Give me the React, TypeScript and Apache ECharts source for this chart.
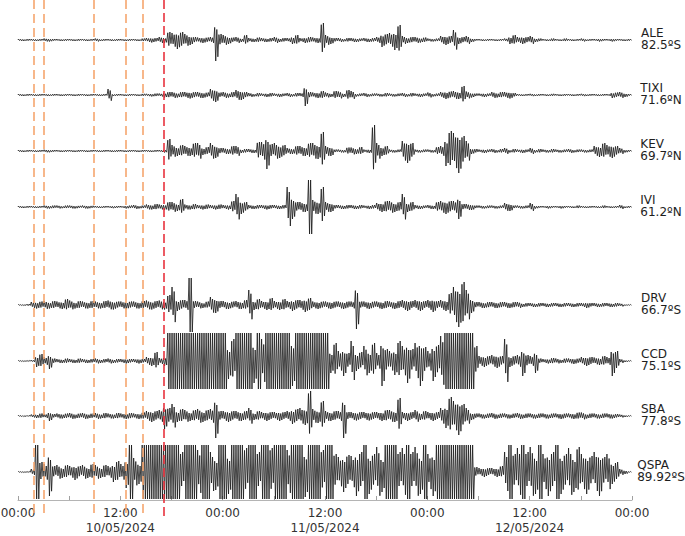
import React, { useEffect, useRef } from 'react';
import * as echarts from 'echarts';

// ---------- data ----------
const STATIONS = ['ALE', 'TIXI', 'KEV', 'IVI', 'DRV', 'CCD', 'SBA', 'QSPA'];
const LATITUDES = ['82.5ºS', '71.6ºN', '69.7ºN', '61.2ºN', '66.7ºS', '75.1ºS', '77.8ºS', '89.92ºS'];
const DATES = ['10/05/2024', '11/05/2024', '12/05/2024'];
const HOURS_TOTAL = 72;
const BIN_HOURS = 0.5; // each envelope value covers 30 minutes
const ORANGE_EVENTS_H = [1.8, 3.0, 8.85, 12.6, 14.65];
const RED_EVENT_H = 17.1;

// half-amplitude envelope per 30-min bin (10/05 00:00 -> 13/05 00:00)
const ALE = [
  1, 1, 1, 1, 1, 1, 1.5, 1.5, 1, 1,
  1, 1, 1, 1, 1, 1, 1, 1, 1.5, 1,
  1, 1, 1, 1, 1, 1, 1, 1, 1, 1.5,
  2, 2.5, 2, 3, 3, 8, 7, 9, 8, 6,
  5, 3, 2.5, 3, 2.5, 3, 21, 6, 5, 4,
  2.5, 3, 2, 5, 2, 2, 2.5, 2, 2, 2,
  3, 2, 2, 2, 4, 5, 2, 3, 3, 2.5,
  3, 17, 5, 4, 2, 2, 1.5, 2, 2, 2,
  1.5, 2, 2, 2, 3, 7, 6, 7, 10, 15,
  4, 3, 3, 3, 2.5, 2.5, 1.5, 1.5, 1.5, 4,
  5, 4, 10, 4, 3, 4, 2, 1, 1, 1,
  1, 1, 1, 1, 1.5, 4, 5, 3, 4, 3,
  4, 2, 1.5, 1, 1, 1.5, 1, 1, 1.5, 1,
  1, 1, 1.5, 1, 1, 1, 1.5, 1, 1, 1.5,
  1, 1, 1, 1,
];
const TIXI = [
  1, 1, 1, 1, 1, 1, 1, 1, 1, 1,
  1, 1, 1, 1, 1, 1, 1, 1, 1, 1,
  1, 6, 1, 1, 1, 1, 1, 1, 1, 1.2,
  1.2, 1.5, 1.5, 1.5, 2.5, 3, 3, 2.5, 3, 3,
  3.5, 3, 3, 3, 2.5, 6, 7, 2.5, 3, 2.5,
  3, 5, 5, 3, 2, 1.5, 2, 1.5, 2, 2,
  1.5, 2, 1.5, 2, 1.5, 2, 2, 11, 3, 2.5,
  3, 4, 2.5, 2, 4, 3.5, 2, 5, 4, 1.5,
  1.5, 2, 1.5, 1.5, 1.5, 1.5, 2, 1.5, 1.5, 1.5,
  2, 1.5, 2, 1.5, 2, 1.5, 2.5, 1.5, 1.5, 3,
  4, 3.5, 4, 4, 9, 3.5, 2.5, 1.5, 1.5, 2,
  1.5, 3, 2.5, 3, 3, 3.5, 2, 1, 1, 1,
  1.2, 1, 1, 1, 1, 1.2, 1, 1, 1, 1,
  1, 1, 1.2, 1, 1, 1, 1, 1, 1, 3,
  2.5, 3, 2, 1,
];
const KEV = [
  1, 1, 1, 1, 1, 1, 1.3, 1.3, 1, 1,
  1, 1, 1, 1, 1, 1, 1, 1, 1, 1,
  1, 1, 1, 1, 1, 1, 1, 1, 1, 1,
  1, 1, 1, 1, 1.5, 12, 6, 5, 6, 5,
  5, 8, 8, 4, 4, 8, 7, 3, 3, 3,
  5, 5, 2, 2, 2, 2, 9, 9, 18, 7,
  8, 7, 6, 3, 3, 5, 5, 5, 8, 8,
  8, 19, 5, 5, 1.5, 1.5, 1.5, 3.5, 3.5, 3,
  4, 1.5, 2, 26, 8, 5, 5, 1.5, 1.5, 1.5,
  10, 12, 8, 1.5, 1.5, 1.5, 1.5, 1.5, 4, 5,
  15, 20, 18, 22, 15, 10, 3, 2, 1.5, 2,
  1.5, 2, 1.5, 2, 3, 1.5, 2, 1.5, 2, 1.5,
  3, 1.5, 2, 1.5, 1.5, 2, 1.5, 1.5, 1.5, 2,
  1.5, 1.5, 1.5, 1.5, 1.5, 5, 6, 8, 6, 7,
  5, 3, 1.5, 1,
];
const IVI = [
  1, 1, 1, 1, 1, 1, 1.5, 1.5, 1.5, 1.5,
  1.2, 1.5, 1.5, 1.5, 1.2, 1.5, 1.5, 1.2, 1, 1,
  1, 1, 1.2, 1, 1, 1.5, 1.5, 2, 1.5, 1.5,
  2.5, 2.5, 3, 2.5, 3, 5, 5, 4, 8, 2.5,
  2.5, 3, 2, 2.5, 2.5, 2, 2.5, 2.5, 2, 2.5,
  6, 13, 7, 5, 2, 2, 2, 2, 2.5, 2,
  2, 2, 2, 20, 12, 5, 5, 5, 27, 7,
  7, 20, 5, 5, 2, 2, 2, 2, 2, 2,
  2, 1.5, 2, 2, 4, 5, 6, 6, 5, 5,
  13, 5, 5, 2, 2, 1.5, 2, 2, 5, 6,
  7, 6, 6, 12, 3, 3, 3, 1.5, 1.5, 1.5,
  1.5, 1.5, 1.5, 1.5, 4, 4, 1.5, 1.5, 1.5, 1.5,
  4, 1.5, 1, 1, 1.5, 1, 1, 1.5, 1, 1,
  1, 1.5, 1, 1, 1, 1, 1, 1.5, 1, 1,
  1, 2, 1, 1,
];
const DRV = [
  0.5, 0.5, 1, 3, 3.5, 3.5, 4, 3.5, 4, 3.5,
  4, 6, 4.5, 3.5, 4, 3.5, 3.5, 4, 3.5, 3.5,
  4, 4.5, 4.5, 3.5, 3.5, 4, 3.5, 3.5, 3.5, 4,
  4.5, 4.5, 4, 4.5, 4.5, 10, 18, 6, 5, 5,
  27, 4, 3.5, 3, 3.5, 8, 8, 4, 4, 4,
  3.5, 4, 4, 5, 15, 5, 6, 4, 5, 7,
  4, 5, 6, 4, 6, 5, 5, 7, 7, 3.5,
  4, 3.5, 3.5, 4, 3.5, 3.5, 4, 3.5, 3.5, 24,
  3.5, 3.5, 4, 3.5, 3.5, 4, 4, 3.5, 4, 4,
  5, 6, 4, 5, 6, 4, 5, 7, 4, 5,
  6, 12, 18, 22, 23, 15, 8, 3, 3, 3,
  3, 3, 3, 3, 3, 3, 3, 3, 2, 2,
  2, 2, 2, 2, 2, 2, 2, 2, 2, 2,
  2, 2, 2, 3, 2, 2, 2, 2, 2, 2,
  2, 1.5, 0.5, 0.5,
];
const CCD = [
  0.5, 0.5, 0.5, 1, 6, 7, 4, 8, 2.5, 2,
  2, 2.5, 2, 2, 2.5, 2, 2, 2, 2.5, 2,
  2, 2.5, 2, 2, 2, 2.5, 2, 2, 2.5, 2,
  4, 5, 9, 3, 5, 28, 28, 28, 28, 28,
  28, 28, 28, 28, 28, 28, 28, 28, 28, 18,
  22, 28, 28, 28, 28, 22, 28, 22, 28, 28,
  28, 28, 28, 28, 25, 28, 28, 28, 28, 28,
  28, 28, 28, 12, 18, 10, 15, 8, 20, 10,
  9, 15, 12, 18, 8, 25, 12, 10, 14, 20,
  15, 22, 12, 18, 25, 14, 10, 20, 16, 25,
  28, 28, 28, 28, 28, 28, 28, 15, 5, 6,
  5, 6, 7, 5, 22, 6, 5, 6, 15, 6,
  5, 12, 2.5, 2, 2.5, 3, 2.5, 2, 2.5, 2.5,
  3, 2.5, 4, 5, 4, 3.5, 4, 5, 4, 15,
  10, 2, 1, 0.5,
];
const SBA = [
  0.7, 0.7, 0.7, 1.5, 2, 2.5, 2, 5, 2, 2.5,
  2.5, 2.5, 3, 2.5, 2.5, 3, 2.5, 2.5, 3, 2.5,
  3, 2.5, 2.5, 3, 2.5, 3, 3, 2.5, 3, 3.5,
  5, 6, 5, 6, 13, 8, 12, 6, 7, 6,
  5, 6, 7, 6, 6, 7, 22, 5, 5, 6,
  5, 5, 5, 5, 8, 4, 5, 4, 5, 4,
  4, 5, 4, 5, 8, 7, 8, 9, 25, 7,
  7, 15, 5, 5, 5, 5, 22, 4, 4, 4.5,
  4, 4, 4.5, 4, 4, 5, 6, 6, 6, 18,
  4, 5, 4, 6, 4, 5, 4, 5, 4, 8,
  12, 19, 15, 19, 12, 8, 4, 2.5, 2.5, 2.5,
  2.5, 3, 2.5, 2.5, 2.5, 2.5, 2.5, 3, 2.5, 2.5,
  2.5, 2.5, 2.5, 2.5, 2.5, 2.5, 2.5, 3, 2.5, 2.5,
  3, 3.5, 3.5, 2.5, 2.5, 2.5, 2.5, 2.5, 2.5, 2.5,
  2, 1.5, 1, 0.5,
];
const QSPA = [
  0.5, 0.5, 0.5, 3, 27, 10, 8, 24, 6, 7,
  6, 7, 6, 8, 6, 7, 6, 8, 7, 6,
  7, 6, 10, 11, 8, 16, 27, 14, 12, 27,
  27, 27, 27, 27, 27, 27, 27, 27, 20, 27,
  27, 27, 22, 27, 27, 20, 18, 27, 27, 22,
  27, 27, 27, 24, 27, 27, 20, 27, 27, 24,
  27, 27, 27, 22, 27, 27, 27, 25, 27, 27,
  27, 22, 27, 27, 18, 15, 20, 17, 16, 24,
  20, 27, 22, 18, 25, 20, 27, 27, 27, 20,
  24, 27, 20, 25, 22, 27, 18, 24, 27, 27,
  27, 27, 27, 27, 27, 27, 27, 5, 4, 5,
  4, 4, 5, 6, 20, 27, 18, 24, 27, 20,
  25, 22, 27, 18, 24, 20, 27, 22, 18, 24,
  20, 25, 18, 22, 16, 20, 24, 15, 18, 12,
  10, 3, 2, 0.5,
];
const TRACES = [ALE, TIXI, KEV, IVI, DRV, CCD, SBA, QSPA];

// ---------- layout / style ----------
const BASELINES = [40, 95, 151, 207, 305, 361, 416, 472]; // y positions (px units of y axis)
const CLIP_LEVEL = 27; // recorder saturation: strokes at this level stay full height
// drawing texture: relative stroke heights inside one 30-min bin (rendering style only)
const STROKE_SHAPES = [
  [1, -0.55, 0.75, -0.95],
  [0.6, -1, 0.5, -0.8],
  [0.9, -0.7, 1, -0.45],
];
const FONT = '"DejaVu Sans", Verdana, sans-serif';
const TEXT_COLOR = '#1e1e1e';
const ORANGE = '#F6A66E';
const RED = '#E8323E';

function trace(env: number[], base: number): [number, number][] {
  const pts: [number, number][] = [[0, base]];
  env.forEach((a, i) => {
    const t = i * BIN_HOURS;
    const shape = STROKE_SHAPES[i % STROKE_SHAPES.length];
    shape.forEach((f, j) => {
      const amp = a >= CLIP_LEVEL ? Math.sign(f) * a : f * a;
      pts.push([t + ((j + 0.5) / shape.length) * BIN_HOURS, base - amp]);
    });
  });
  pts.push([HOURS_TOTAL, base]);
  return pts;
}

function axisFormatter(v: number): string {
  const h = Math.round(v);
  if (h % 12 !== 0) return '';
  if (h % 24 === 0) return '00:00';
  return '12:00\n' + DATES[Math.floor(h / 24)];
}

export default function App() {
  const ref = useRef<HTMLDivElement>(null);
  useEffect(() => {
    if (!ref.current) return;
    const chart = echarts.init(ref.current, undefined, { renderer: 'svg' });
    const vLines = [
      ...ORANGE_EVENTS_H.map((h) => ({ xAxis: h, lineStyle: { color: ORANGE, width: 1.6, type: [9, 5] } })),
      { xAxis: RED_EVENT_H, lineStyle: { color: RED, width: 1.6, type: [9, 4] } },
    ];
    const series: any[] = TRACES.map((env, k) => ({
      type: 'line',
      name: STATIONS[k],
      xAxisIndex: 0,
      yAxisIndex: 0,
      data: trace(env, BASELINES[k]),
      showSymbol: false,
      symbol: 'none',
      silent: true,
      z: 2,
      lineStyle: { color: '#161616', width: 0.8 },
      ...(k === 0
        ? {
            markLine: {
              silent: true,
              symbol: ['none', 'none'],
              label: { show: false },
              z: 6,
              data: vLines,
            },
          }
        : {}),
    }));
    const option: any = {
      animation: false,
      backgroundColor: '#ffffff',
      grid: [
        { left: 18, right: 53, top: 0, bottom: 18, outerBoundsMode: 'none' },
        { left: 18, right: 53, top: 0, bottom: 36, outerBoundsMode: 'none' },
      ],
      xAxis: [
        { type: 'value', gridIndex: 0, min: 0, max: HOURS_TOTAL, show: false },
        {
          type: 'value',
          gridIndex: 1,
          min: 0,
          max: HOURS_TOTAL,
          interval: 6,
          axisLine: { show: true, lineStyle: { color: '#b4b4b4', width: 1 } },
          axisTick: { show: true, inside: true, length: 4, lineStyle: { color: '#a0a0a0' } },
          splitLine: { show: false },
          axisLabel: {
            formatter: axisFormatter,
            fontFamily: FONT,
            fontSize: 12,
            color: '#333',
            lineHeight: 15,
            margin: 5,
            showMinLabel: true,
            showMaxLabel: true,
          },
        },
      ],
      yAxis: [
        { type: 'value', gridIndex: 0, min: 0, max: 518, inverse: true, show: false },
        { type: 'value', gridIndex: 1, min: 0, max: 1, show: false },
      ],
      series,
    };
    chart.setOption(option);

    // station labels, positioned through the chart's own scales
    const ctx = document.createElement('canvas').getContext('2d');
    if (ctx) ctx.font = '12px ' + FONT;
    const graphics: any[] = [];
    STATIONS.forEach((name, k) => {
      const p = chart.convertToPixel({ gridIndex: 0 } as any, [HOURS_TOTAL, BASELINES[k]]) as number[];
      const w = ctx ? Math.max(ctx.measureText(name).width, ctx.measureText(LATITUDES[k]).width) : 40;
      const left = p[0] + 29 - w / 2;
      [name, LATITUDES[k]].forEach((txt, line) => {
        graphics.push({
          type: 'text',
          x: left,
          y: p[1] - 7.5 + line * 12.5,
          silent: true,
          style: {
            text: txt,
            fill: TEXT_COLOR,
            fontSize: 12,
            fontFamily: FONT,
            align: 'left',
            verticalAlign: 'middle',
          },
        });
      });
    });
    chart.setOption({ graphic: graphics });
    return () => chart.dispose();
  }, []);
  return (
    <div
      ref={ref}
      style={{ position: 'fixed', left: 0, top: 0, width: 685, height: 536, background: '#fff' }}
    />
  );
}
